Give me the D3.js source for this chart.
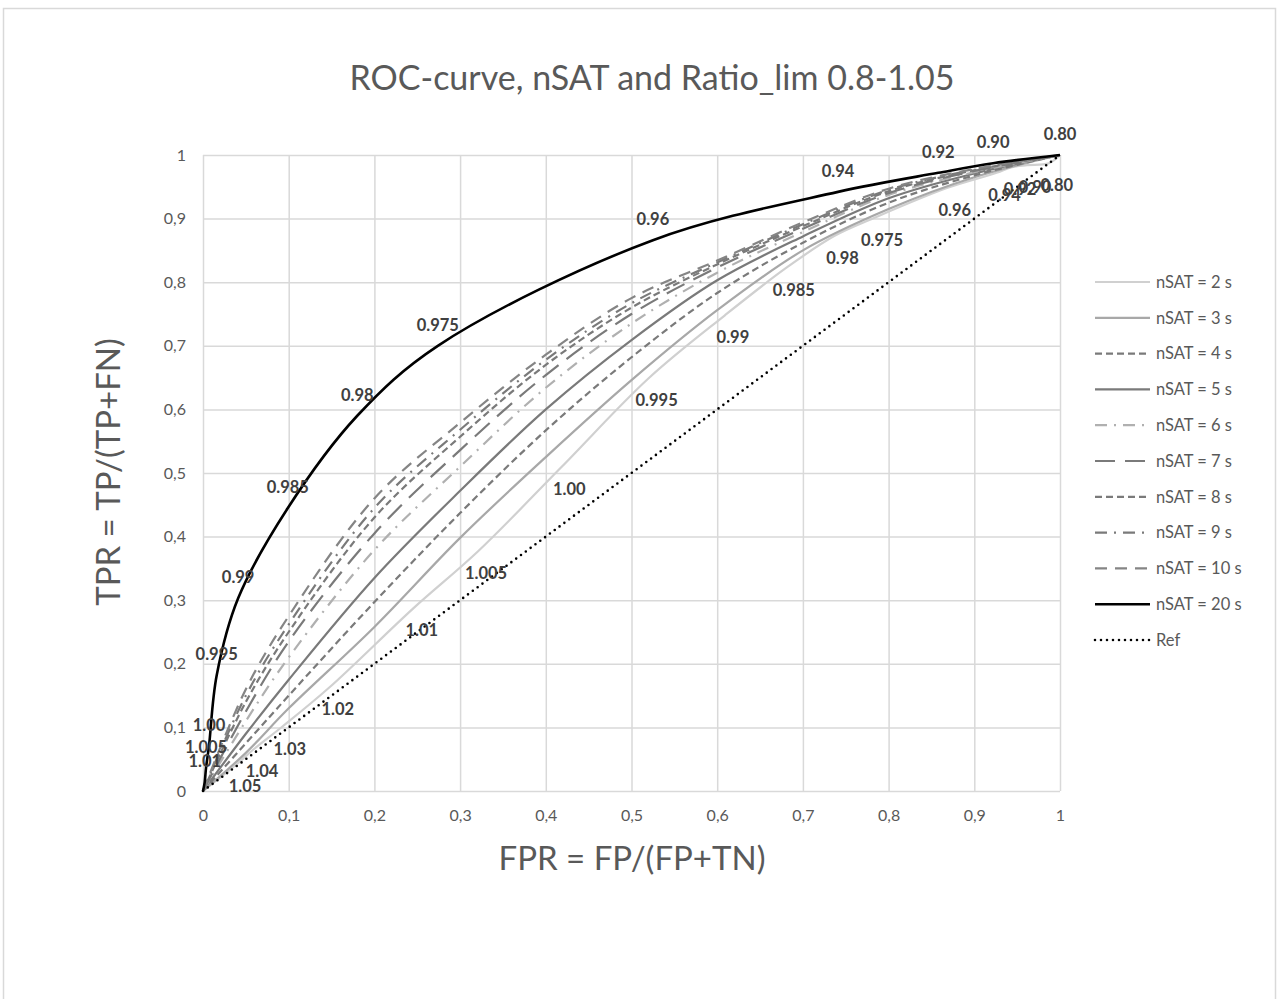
<!DOCTYPE html>
<html>
<head>
<meta charset="utf-8">
<script src="https://cdn.jsdelivr.net/npm/d3@7"></script>
<style>
  body { margin: 0; background: #fff; }
  text { font-family: Lato, "Open Sans", sans-serif; }
</style>
</head>
<body>
<svg id="chart" width="1279" height="999"></svg>
<script>
//
// Data
//

// unlabelled curves share these FPR sample points
const fprSteps = [0, 0.05, 0.1, 0.2, 0.3, 0.4, 0.5, 0.6, 0.7, 0.8, 0.9, 1];
const tprN3  = [0, 0.060, 0.130, 0.258, 0.398, 0.525, 0.646, 0.756, 0.850, 0.915, 0.965, 1];
const tprN4  = [0, 0.075, 0.150, 0.297, 0.437, 0.567, 0.682, 0.783, 0.862, 0.925, 0.968, 1];
const tprN5  = [0, 0.090, 0.175, 0.335, 0.472, 0.600, 0.709, 0.803, 0.872, 0.932, 0.971, 1];
const tprN6  = [0, 0.110, 0.210, 0.379, 0.510, 0.634, 0.735, 0.815, 0.879, 0.937, 0.973, 1];
const tprN7  = [0, 0.125, 0.235, 0.405, 0.536, 0.654, 0.750, 0.823, 0.884, 0.940, 0.975, 1];
const tprN8  = [0, 0.140, 0.250, 0.430, 0.557, 0.670, 0.760, 0.828, 0.888, 0.943, 0.976, 1];
const tprN9  = [0, 0.150, 0.262, 0.445, 0.568, 0.678, 0.767, 0.831, 0.891, 0.945, 0.977, 1];
const tprN10 = [0, 0.160, 0.275, 0.460, 0.579, 0.686, 0.775, 0.834, 0.894, 0.947, 0.978, 1];

// nSAT = 2 s, with Ratio_lim labels
const ratio2 = [null, "1.05", "1.04", "1.03", "1.02", "1.01", "1.005", "1.00", "0.995", "0.99", "0.985",
                "0.98", "0.975", "0.96", "0.94", "0.92", "0.90", "0.80", null];
const fpr2 = [0, 0.0397, 0.0595, 0.092, 0.148, 0.246, 0.321, 0.418, 0.520, 0.609, 0.680,
              0.737, 0.783, 0.868, 0.926, 0.944, 0.9615, 0.987, 1];
const tpr2 = [0, 0.0425, 0.066, 0.1006, 0.1635, 0.288, 0.377, 0.509, 0.649, 0.748, 0.822,
              0.873, 0.901, 0.948, 0.972, 0.981, 0.984, 0.987, 1];

// nSAT = 20 s, with Ratio_lim labels
const ratio20 = [null, "1.01", "1.005", "1.00", "0.995", "0.99", "0.985", "0.98", "0.975",
                 "0.96", "0.94", "0.92", "0.90", "0.80"];
const fpr20 = [0, 0.002, 0.0035, 0.007, 0.016, 0.041, 0.099, 0.180, 0.274, 0.525, 0.741, 0.858, 0.922, 1];
const tpr20 = [0, 0.014, 0.036, 0.071, 0.182, 0.303, 0.445, 0.590, 0.700, 0.866, 0.942, 0.972, 0.987, 1];

// reference diagonal
const fprRef = [0, 1];
const tprRef = [0, 1];

const xTicks = [0, 0.1, 0.2, 0.3, 0.4, 0.5, 0.6, 0.7, 0.8, 0.9, 1];
const yTicks = [0, 0.1, 0.2, 0.3, 0.4, 0.5, 0.6, 0.7, 0.8, 0.9, 1];

const seriesNames = ["nSAT = 2 s", "nSAT = 3 s", "nSAT = 4 s", "nSAT = 5 s", "nSAT = 6 s", "nSAT = 7 s",
                     "nSAT = 8 s", "nSAT = 9 s", "nSAT = 10 s", "nSAT = 20 s", "Ref"];

//
// Build series
//

const zip = (xs, ys, labels) => xs.map((x, i) => ({x: x, y: ys[i], label: labels ? labels[i] : null}));

const series = [
  {name: seriesNames[0],  pts: zip(fpr2, tpr2, ratio2), color: '#d0d0d0', width: 2.2, dash: null, labelOff: [8, 22]},
  {name: seriesNames[1],  pts: zip(fprSteps, tprN3),  color: '#a8a8a8', width: 2.2, dash: null},
  {name: seriesNames[2],  pts: zip(fprSteps, tprN4),  color: '#7a7a7a', width: 2.2, dash: '7,4'},
  {name: seriesNames[3],  pts: zip(fprSteps, tprN5),  color: '#7a7a7a', width: 2.2, dash: null},
  {name: seriesNames[4],  pts: zip(fprSteps, tprN6),  color: '#b0b0b0', width: 2.2, dash: '12,7,2,7'},
  {name: seriesNames[5],  pts: zip(fprSteps, tprN7),  color: '#7a7a7a', width: 2.2, dash: '20,10'},
  {name: seriesNames[6],  pts: zip(fprSteps, tprN8),  color: '#7a7a7a', width: 2.2, dash: '7,4'},
  {name: seriesNames[7],  pts: zip(fprSteps, tprN9),  color: '#7a7a7a', width: 2.2, dash: '12,7,2,7'},
  {name: seriesNames[8],  pts: zip(fprSteps, tprN10), color: '#858585', width: 2.2, dash: '12,8'},
  {name: seriesNames[9],  pts: zip(fpr20, tpr20, ratio20), color: '#000', width: 2.6, dash: null, labelOff: [0, -21]},
  {name: seriesNames[10], pts: zip(fprRef, tprRef), color: '#000', width: 2.6, dash: '0,6', cap: 'round'}
];

//
// Layout
//

const svg = d3.select('#chart');
const plot = {left: 203, right: 1060, top: 155, bottom: 791};
const textColor = '#595959';
const gridColor = '#d9d9d9';

const x = d3.scaleLinear().domain([0, 1]).range([plot.left, plot.right]);
const y = d3.scaleLinear().domain([0, 1]).range([plot.bottom, plot.top]);
const commaFmt = d => d3.format('.1~f')(d).replace('.', ',');

// chart frame
svg.append('rect')
  .attr('x', 3.5).attr('y', 8.5).attr('width', 1272).attr('height', 1000)
  .attr('fill', '#fff').attr('stroke', gridColor).attr('stroke-width', 1.5);

// title
svg.append('text')
  .attr('x', 652).attr('y', 90)
  .attr('text-anchor', 'middle')
  .attr('font-size', 34)
  .attr('fill', textColor)
  .text('ROC-curve, nSAT and Ratio_lim 0.8-1.05');

// grid
svg.append('g')
  .attr('transform', `translate(0,${plot.bottom})`)
  .call(d3.axisBottom(x).tickValues(xTicks).tickSize(-(plot.bottom - plot.top)).tickFormat(commaFmt).tickPadding(19))
  .call(g => g.select('.domain').remove())
  .call(g => g.selectAll('line').attr('stroke', gridColor).attr('stroke-width', 1.5))
  .call(g => g.selectAll('text').attr('fill', textColor).attr('font-size', 16).style('font-family', 'Lato'));

svg.append('g')
  .attr('transform', `translate(${plot.left},0)`)
  .call(d3.axisLeft(y).tickValues(yTicks).tickSize(-(plot.right - plot.left)).tickFormat(commaFmt).tickPadding(17))
  .call(g => g.select('.domain').remove())
  .call(g => g.selectAll('line').attr('stroke', gridColor).attr('stroke-width', 1.5))
  .call(g => g.selectAll('text').attr('fill', textColor).attr('font-size', 16).style('font-family', 'Lato'));

// axis titles
svg.append('text')
  .attr('x', 632).attr('y', 870)
  .attr('text-anchor', 'middle')
  .attr('font-size', 33)
  .attr('fill', textColor)
  .text('FPR = FP/(FP+TN)');

svg.append('text')
  .attr('transform', 'translate(120,472) rotate(-90)')
  .attr('text-anchor', 'middle')
  .attr('font-size', 33)
  .attr('fill', textColor)
  .text('TPR = TP/(TP+FN)');

// curves
const line = d3.line()
  .x(d => x(d.x))
  .y(d => y(d.y))
  .curve(d3.curveCatmullRom.alpha(0.5));

svg.append('g')
  .selectAll('path')
  .data(series)
  .join('path')
  .attr('d', d => line(d.pts))
  .attr('fill', 'none')
  .attr('stroke', d => d.color)
  .attr('stroke-width', d => d.width)
  .attr('stroke-dasharray', d => d.dash)
  .attr('stroke-linecap', d => d.cap || 'butt');

// data labels
series.filter(s => s.labelOff).forEach(s => {
  const [dx, dy] = s.labelOff;
  svg.append('g')
    .selectAll('text')
    .data(s.pts.filter(p => p.label))
    .join('text')
    .attr('x', p => x(p.x) + dx)
    .attr('y', p => y(p.y) + dy)
    .attr('dy', '0.36em')
    .attr('text-anchor', 'middle')
    .attr('font-size', 16.5)
    .attr('font-weight', 700)
    .attr('fill', '#404040')
    .text(p => p.label);
});

// legend
const legend = svg.append('g').attr('transform', 'translate(1095,282)');
const rows = legend.selectAll('g')
  .data(series)
  .join('g')
  .attr('transform', (d, i) => `translate(0,${i * 35.8})`);

rows.append('line')
  .attr('x1', 0).attr('x2', 55)
  .attr('stroke', d => d.color)
  .attr('stroke-width', d => d.width)
  .attr('stroke-dasharray', d => d.dash)
  .attr('stroke-linecap', d => d.cap || 'butt');

rows.append('text')
  .attr('x', 61)
  .attr('dy', '0.35em')
  .attr('font-size', 16.5)
  .attr('fill', textColor)
  .text(d => d.name);
</script>
</body>
</html>
